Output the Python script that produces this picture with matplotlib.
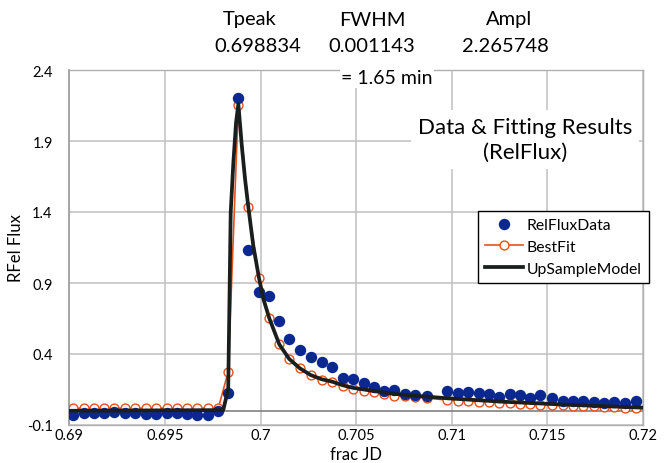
import matplotlib
matplotlib.use("Agg")
import matplotlib.pyplot as plt
from matplotlib.lines import Line2D

# ---- data ----
t_data = [0.69021, 0.69077, 0.69129, 0.69183, 0.69235, 0.69291, 0.69345, 0.69400,
          0.69453, 0.69509, 0.69562, 0.69616, 0.69669, 0.69724, 0.69779, 0.69831,
          0.69884, 0.69936, 0.69992, 0.70046, 0.70098, 0.70150, 0.70206, 0.70262,
          0.70320, 0.70375, 0.70430, 0.70482, 0.70541, 0.70593, 0.70647, 0.70700,
          0.70754, 0.70808, 0.70869, 0.70977, 0.71033, 0.71087, 0.71141, 0.71195,
          0.71249, 0.71303, 0.71357, 0.71409, 0.71463, 0.71523, 0.71580, 0.71634,
          0.71688, 0.71742, 0.71795, 0.71847, 0.71906, 0.71962]

rel_flux = [-0.030, -0.018, -0.018, -0.018, -0.011, -0.018, -0.018, -0.023,
            -0.023, -0.018, -0.018, -0.023, -0.030, -0.030, 0.001, 0.125,
            2.203, 1.135, 0.835, 0.811, 0.630, 0.506, 0.428, 0.381,
            0.342, 0.306, 0.233, 0.222, 0.196, 0.168, 0.142, 0.144,
            0.118, 0.109, 0.102, 0.139, 0.123, 0.132, 0.123, 0.118,
            0.099, 0.118, 0.111, 0.088, 0.113, 0.088, 0.067, 0.071,
            0.067, 0.060, 0.053, 0.062, 0.053, 0.067]

best_fit = [0.018, 0.018, 0.018, 0.018, 0.018, 0.018, 0.018, 0.018,
            0.018, 0.018, 0.018, 0.018, 0.018, 0.018, 0.018, 0.275,
            2.156, 1.437, 0.933, 0.651, 0.468, 0.365, 0.299, 0.250,
            0.219, 0.201, 0.173, 0.154, 0.142, 0.130, 0.118, 0.106,
            0.102, 0.095, 0.090, 0.075, 0.071, 0.067, 0.063, 0.059,
            0.056, 0.053, 0.050, 0.047, 0.044, 0.041, 0.038, 0.036,
            0.033, 0.031, 0.028, 0.026, 0.023, 0.021]

t_model = [0.69000, 0.69805, 0.69831, 0.69844, 0.69858, 0.69872, 0.69884, 0.69902,
           0.69919, 0.69936, 0.69962, 0.69992, 0.70015, 0.70046, 0.70098, 0.70150,
           0.70206, 0.70262, 0.70320, 0.70375, 0.70430, 0.70482, 0.70541, 0.70593,
           0.70647, 0.70700, 0.70754, 0.70808, 0.70869, 0.70977, 0.71252, 0.71566,
           0.72000]
up_model = [0.000, 0.005, 0.154, 1.398, 1.750, 2.030, 2.160, 1.867,
            1.632, 1.437, 1.163, 0.935, 0.787, 0.651, 0.468, 0.365,
            0.299, 0.252, 0.222, 0.205, 0.180, 0.162, 0.150, 0.139,
            0.129, 0.120, 0.112, 0.106, 0.100, 0.088, 0.065, 0.045,
            0.022]

x_ticks = [0.69, 0.695, 0.70, 0.705, 0.71, 0.715, 0.72]
x_ticklabels = ["0.69", "0.695", "0.7", "0.705", "0.71", "0.715", "0.72"]
y_ticks = [-0.1, 0.4, 0.9, 1.4, 1.9, 2.4]
y_ticklabels = ["-0.1", "0.4", "0.9", "1.4", "1.9", "2.4"]

header_names = ["Tpeak", "FWHM", "Ampl"]
header_values = ["0.698834", "0.001143", "2.265748"]

# ---- style ----
plt.rcParams['font.family'] = ['Lato', 'DejaVu Sans']
W, H = 668, 464
fig = plt.figure(figsize=(W / 100, H / 100), dpi=100)
fig.patch.set_facecolor('white')

left, right, top, bottom = 69.3, 643.0, 71.0, 426.0
ax = fig.add_axes([left / W, 1 - bottom / H, (right - left) / W, (bottom - top) / H])

BLUE = '#0a2890'
ORANGE = '#e8501a'
BLACK = '#1a1f1e'
GRID = '#c0c0c0'

ax.set_xlim(0.69, 0.72)
ax.set_ylim(-0.1, 2.4)
ax.set_xticks(x_ticks)
ax.set_xticklabels(x_ticklabels)
ax.set_yticks(y_ticks)
ax.set_yticklabels(y_ticklabels)
ax.tick_params(length=0, labelsize=10.5, colors='black')
ax.tick_params(axis='y', pad=12)
ax.tick_params(axis='x', pad=2)
ax.grid(True, color=GRID, linewidth=1.1, zorder=0)
ax.set_axisbelow(True)
for s in ax.spines.values():
    s.set_color('#b0b0b0')
    s.set_linewidth(1.0)
ax.spines['left'].set_color('#a0a0a0')
ax.spines['left'].set_linewidth(1.3)
ax.axhline(0, color='#808080', linewidth=1.2, zorder=1)

ax.plot(t_data, best_fit, color=ORANGE, linewidth=1.2, marker='o', markersize=6.4,
        markerfacecolor='white', markeredgecolor=ORANGE, markeredgewidth=1.0, zorder=3)
ax.plot(t_data, rel_flux, linestyle='none', marker='o', markersize=7.2,
        markerfacecolor=BLUE, markeredgecolor=BLUE, zorder=4)
ax.plot(t_model, up_model, color=BLACK, linewidth=2.7, zorder=5)

ax.set_xlabel("frac JD", fontsize=12, labelpad=3)
ax.set_ylabel("RFel Flux", fontsize=12, labelpad=2)

# title box inside the plot
ax.text(0.795, 0.805, "Data & Fitting Results\n(RelFlux)", transform=ax.transAxes,
        ha='center', va='center', fontsize=16, linespacing=1.3,
        bbox=dict(facecolor='white', edgecolor='none', pad=5), zorder=6)

# FWHM minutes note
ax.text((387 - left) / (right - left), (bottom - 79) / (bottom - top), "= 1.65 min",
        transform=ax.transAxes, ha='center', va='center', fontsize=14,
        bbox=dict(facecolor='white', edgecolor='none', pad=1), zorder=6)

# header
name_x = [250, 372, 509]
val_x = [258, 372, 505]
for nx, vx, nm, vl in zip(name_x, val_x, header_names, header_values):
    fig.text(nx / W, 1 - 20 / H, nm, ha='center', va='center', fontsize=14.5)
    fig.text(vx / W, 1 - 47 / H, vl, ha='center', va='center', fontsize=14.5)

handles = [
    Line2D([], [], linestyle='none', marker='o', markersize=7.2,
           markerfacecolor=BLUE, markeredgecolor=BLUE),
    Line2D([], [], color=ORANGE, linewidth=1.2, marker='o', markersize=6.4,
           markerfacecolor='white', markeredgecolor=ORANGE, markeredgewidth=1.0),
    Line2D([], [], color=BLACK, linewidth=2.7),
]
leg = ax.legend(handles, ["RelFluxData", "BestFit", "UpSampleModel"],
                loc='upper left', bbox_to_anchor=((478 - left) / (right - left), (bottom - 212) / (bottom - top)),
                fontsize=11.3, frameon=True, fancybox=False, framealpha=1,
                edgecolor='black', handlelength=2.4, labelspacing=0.5,
                borderpad=0.45, handletextpad=0.25, borderaxespad=0)
leg.get_frame().set_linewidth(1.0)
leg.set_zorder(7)

fig.savefig("out.png", dpi=100, facecolor='white')
